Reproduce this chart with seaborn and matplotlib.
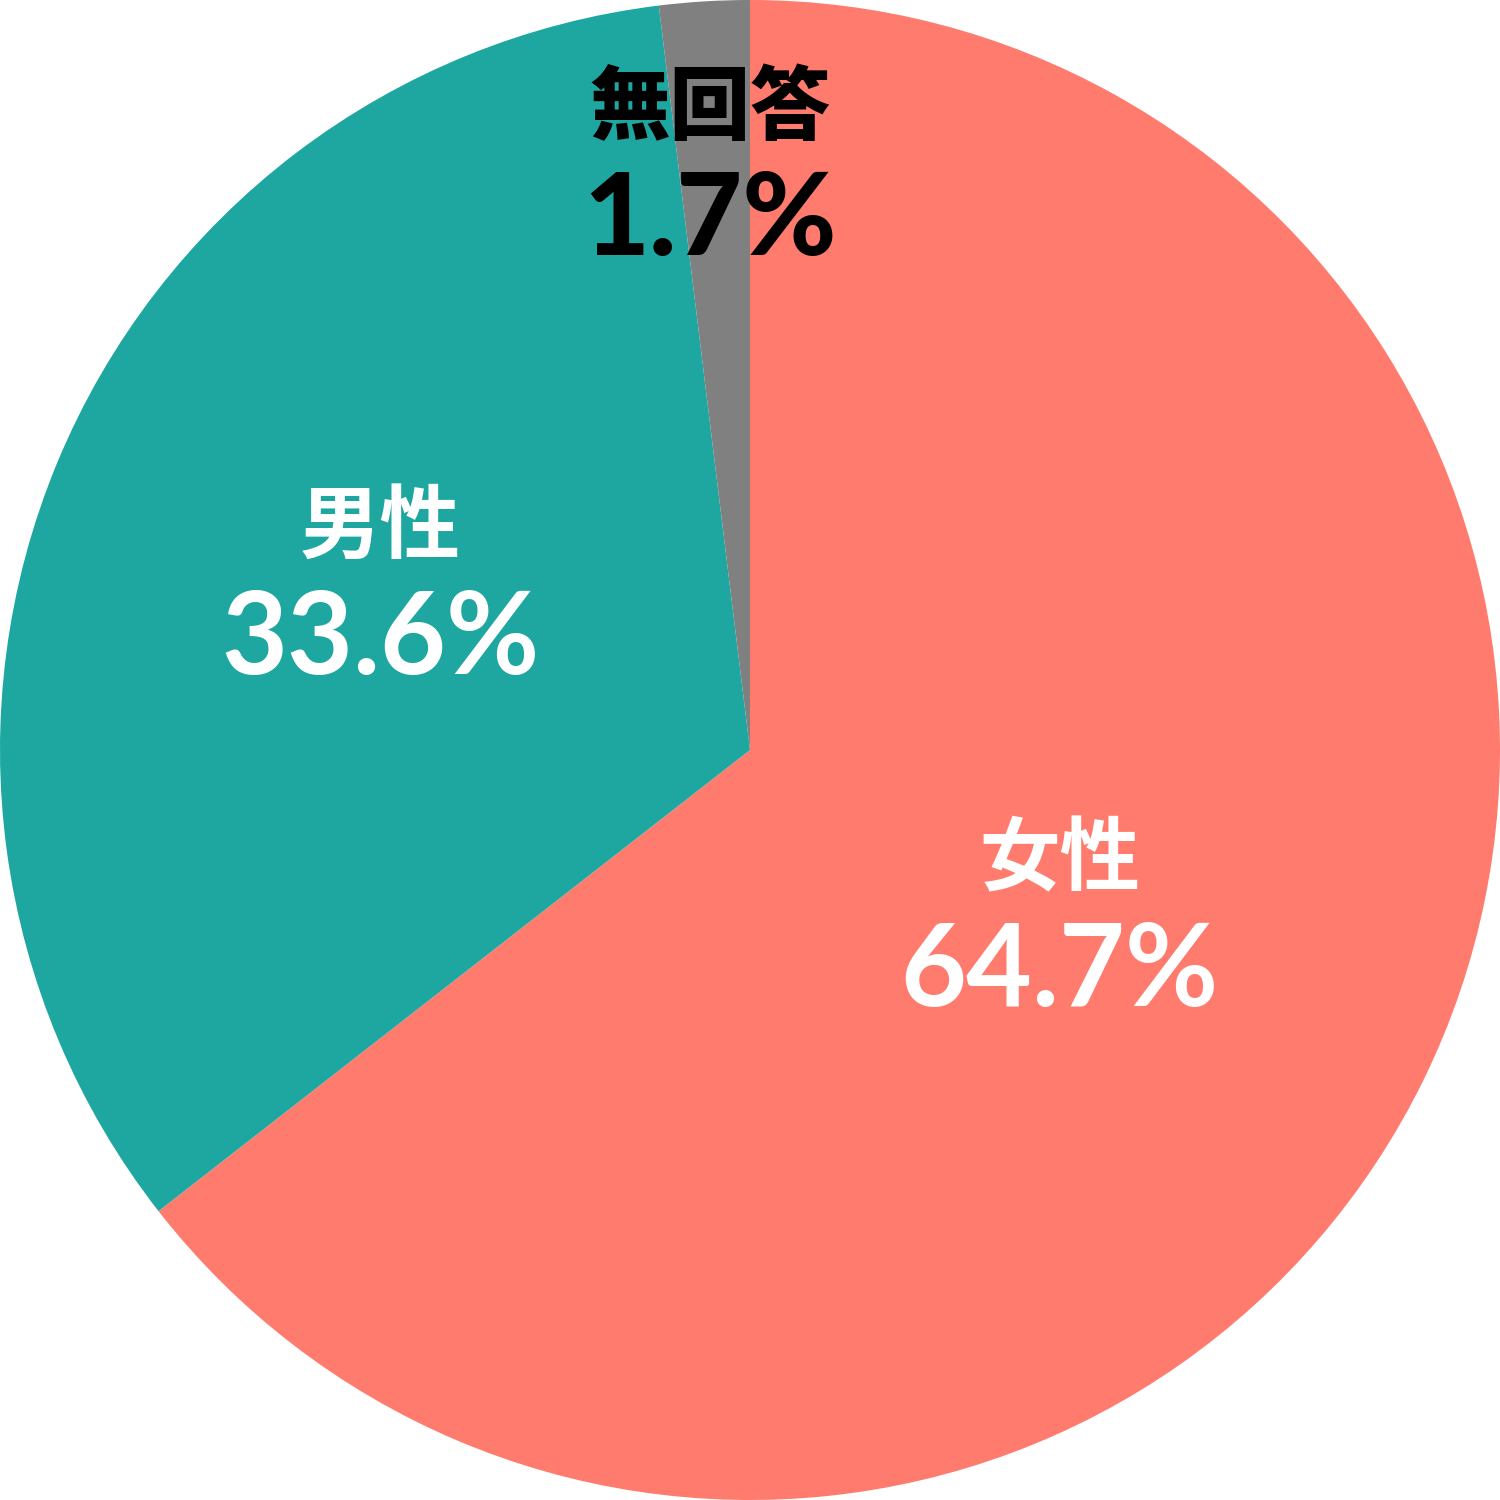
import numpy as np
import seaborn as sns
import matplotlib.pyplot as plt

# data (slice sizes as drawn in the picture, labels as printed)
categories = ["女性", "男性", "無回答"]
shares = [64.46, 33.6, 1.94]
pct_labels = ["64.7%", "33.6%", "1.7%"]
colors = ["#FF7B6E", "#1EA7A0", "#808080"]
text_colors = ["white", "white", "black"]
weights = ["bold", "bold", "black"]

# label placement: distance from centre and small angular nudge off the mid-angle
label_radius = [0.467, 0.542, 0.785]
label_shift_deg = [-1.8, -1.9, 0.4]

sns.set_theme(style="white")
plt.rcParams['font.family'] = ['Noto Sans CJK JP', 'DejaVu Sans']

fig = plt.figure(figsize=(15, 15), dpi=100)
ax = fig.add_axes([0, 0, 1, 1])

wedges, _ = ax.pie(shares, colors=colors, startangle=90, counterclock=False,
                   radius=1.0, wedgeprops=dict(linewidth=0))

for w, cat, pct, tc, wt, r, dth in zip(wedges, categories, pct_labels, text_colors,
                                       weights, label_radius, label_shift_deg):
    mid = np.deg2rad((w.theta1 + w.theta2) / 2 + dth)
    x, y = r * np.cos(mid), r * np.sin(mid)
    ax.text(x, y + 0.071, cat, ha="center", va="center", fontsize=58,
            fontweight=wt, color=tc, family=['Noto Sans CJK JP', 'DejaVu Sans'])
    ax.text(x, y - 0.123, pct, ha="center", va="baseline", fontsize=82,
            fontweight=wt, color=tc, family=['Lato', 'DejaVu Sans'])

ax.set_xlim(-1, 1)
ax.set_ylim(-1, 1)
ax.set_aspect("equal")
ax.axis("off")

plt.savefig("out.png", dpi=100)
plt.close()
